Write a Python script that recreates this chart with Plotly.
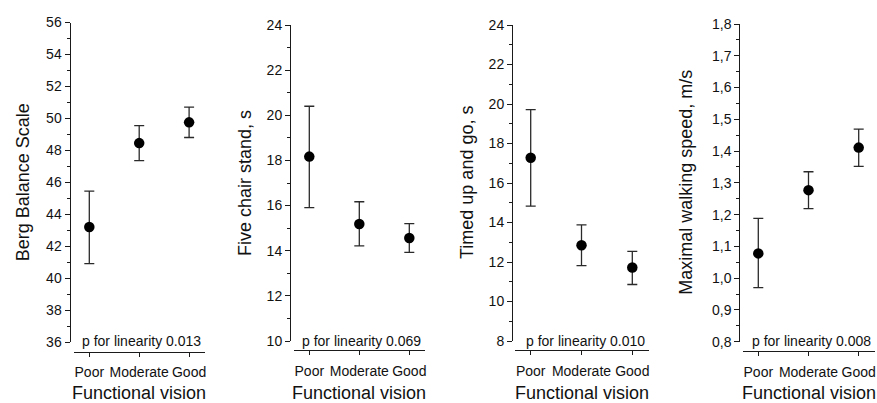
import plotly.graph_objects as go

W, H = 877, 403

categories = ["Poor", "Moderate", "Good"]

berg_mean = [43.2, 48.45, 49.75]
berg_low = [40.9, 47.35, 48.8]
berg_high = [45.45, 49.55, 50.7]

chair_mean = [18.17, 15.18, 14.56]
chair_low = [15.91, 14.21, 13.93]
chair_high = [20.4, 16.17, 15.2]

tug_mean = [17.28, 12.85, 11.72]
tug_low = [14.83, 11.82, 10.86]
tug_high = [19.72, 13.88, 12.54]

speed_mean = [1.078, 1.277, 1.411]
speed_low = [0.97, 1.219, 1.352]
speed_high = [1.188, 1.335, 1.469]

y_titles = ["Berg Balance Scale", "Five chair stand, s", "Timed up and go, s",
            "Maximal walking speed, m/s"]
p_texts = ["p for linearity 0.013", "p for linearity 0.069",
           "p for linearity 0.010", "p for linearity 0.008"]
y_ranges = [(36, 56), (10, 24), (8, 24), (0.8, 1.8)]
y_dticks = [(2, 1), (2, 1), (2, 1), (0.1, 0.05)]
y_formats = ["d", "d", "d", ".1f"]

series = [
    (berg_mean, berg_low, berg_high),
    (chair_mean, chair_low, chair_high),
    (tug_mean, tug_low, tug_high),
    (speed_mean, speed_low, speed_high),
]

# layout in pixels: y-axis x, y top, y bottom, x-axis line y, first category px, category spacing, y-title x
panels = [
    (69.5, 22.5, 342.0, 351.5, 89.3, 49.9, 23),
    (290.0, 25.0, 341.0, 350.3, 309.3, 50.0, 245),
    (512.0, 25.0, 341.0, 350.3, 530.7, 50.8, 467),
    (739.3, 24.0, 341.7, 350.7, 758.3, 50.2, 686),
]

XR = (-0.31, 2.32)
FONT = "Liberation Sans, Arial, sans-serif"
AX = "#1a1a1a"

fig = go.Figure()
annotations = []
layout_axes = {}

for i, ((m, lo, hi), (yx, yt, yb, xly, p0, s, ytx)) in enumerate(zip(series, panels)):
    n = i + 1
    xa = "x" if n == 1 else f"x{n}"
    ya = "y" if n == 1 else f"y{n}"
    fig.add_trace(go.Scatter(
        x=categories, y=m, mode="markers",
        marker=dict(color="black", size=10.5),
        error_y=dict(type="data", symmetric=False,
                     array=[h - v for h, v in zip(hi, m)],
                     arrayminus=[v - l for v, l in zip(m, lo)],
                     color="#2a2a2a", thickness=1.3, width=5),
        xaxis=xa, yaxis=ya, showlegend=False, cliponaxis=False,
        hoverinfo="skip",
    ))
    x0 = p0 + XR[0] * s
    x1 = p0 + XR[1] * s
    xkey = "xaxis" if n == 1 else f"xaxis{n}"
    ykey = "yaxis" if n == 1 else f"yaxis{n}"
    layout_axes[xkey] = dict(
        domain=[x0 / W, x1 / W], anchor="free", position=1 - xly / H,
        range=list(XR), type="category", automargin=False,
        showline=True, linecolor=AX, linewidth=1, showgrid=False, zeroline=False,
        ticks="outside", ticklen=4, tickcolor=AX, tickwidth=1,
        tickfont=dict(family=FONT, size=14, color="#111111"),
        ticklabelstandoff=4,
    )
    major, minor = y_dticks[i]
    layout_axes[ykey] = dict(
        domain=[1 - yb / H, 1 - yt / H], anchor="free", position=yx / W,
        range=list(y_ranges[i]), dtick=major, tick0=y_ranges[i][0],
        tickformat=y_formats[i], automargin=False,
        showline=True, linecolor=AX, linewidth=1, showgrid=False, zeroline=False,
        ticks="outside", ticklen=5, tickcolor=AX, tickwidth=1,
        minor=dict(dtick=minor, tick0=y_ranges[i][0], ticks="outside", ticklen=3,
                   tickcolor=AX, tickwidth=1, showgrid=False),
        tickfont=dict(family=FONT, size=14, color="#111111"),
    )
    annotations.append(dict(
        text=y_titles[i], x=ytx / W, y=1 - (yt + yb) / 2 / H, xref="paper", yref="paper",
        textangle=-90, showarrow=False, xanchor="center", yanchor="middle",
        font=dict(family=FONT, size=18, color="#111111"),
    ))
    annotations.append(dict(
        text="Functional vision", x=(p0 + s) / W, y=1 - 392.5 / H, xref="paper", yref="paper",
        showarrow=False, xanchor="center", yanchor="middle",
        font=dict(family=FONT, size=18, color="#111111"),
    ))
    annotations.append(dict(
        text=p_texts[i], x=(x1 - 2) / W, y=1 - 341 / H, xref="paper", yref="paper",
        showarrow=False, xanchor="right", yanchor="middle",
        font=dict(family=FONT, size=14, color="#111111"),
    ))

fig.update_layout(
    width=W, height=H, autosize=False,
    margin=dict(l=0, r=0, t=0, b=0, pad=0, autoexpand=False),
    paper_bgcolor="white", plot_bgcolor="white",
    separators=",.",
    showlegend=False,
    annotations=annotations,
    **layout_axes,
)

fig.write_html(
    "out.html",
    config={"displayModeBar": False, "staticPlot": True},
    post_script="document.body.style.margin='0';document.body.style.padding='0';"
                "document.body.style.overflow='hidden';",
)
